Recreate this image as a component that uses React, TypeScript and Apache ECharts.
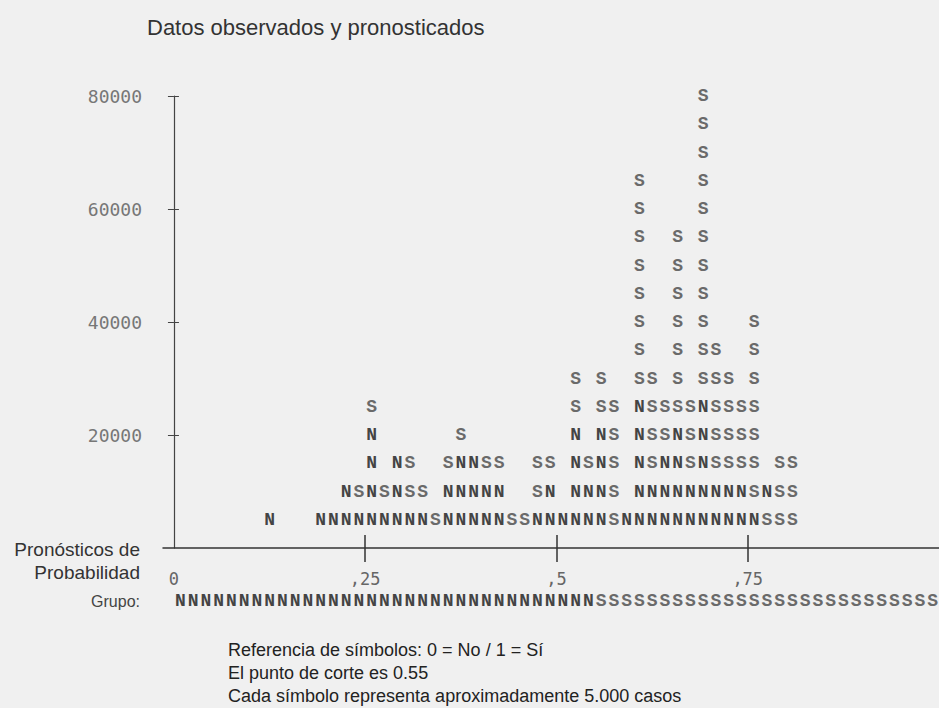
import React, { useEffect, useRef } from "react";
import * as echarts from "echarts";

// ---- data ----
const TITLE = "Datos observados y pronosticados";
// Each string is one row of symbols (bottom row first); each character is one of
// 60 probability columns (width 1/60). N = No, S = Sí.
const ROWS: string[] = [
  "       N   NNNNNNNNNSNNNNNSSNNNNNNSNNNNNNNNNNNSSS",
  "             NSNSNSS NNNNN  SN NNNS NNNNNNNNNSNSS",
  "               N NS  SNNSS  SS NSNS NSNNSNSSSS SS",
  "               N      S        N NS NSSNSNSSSS",
  "               S               S SS NSSSSNSSSS",
  "                               S S  SS S SSS S",
  "                                    S  S SS  S",
  "                                    S  S S   S",
  "                                    S  S S",
  "                                    S  S S",
  "                                    S  S S",
  "                                    S    S",
  "                                    S    S",
  "                                         S",
  "                                         S",
  "                                         S",
];
const COLUMNS = 60;
const CASES_PER_SYMBOL = 5000;
const CUT_POINT = 0.55;
const X_TICKS = [0, 0.25, 0.5, 0.75];
const X_TICK_LABELS = ["0", ",25", ",5", ",75"];
const X_CROSS_TICKS = [0.25, 0.5, 0.75];
const Y_TICKS = [20000, 40000, 60000, 80000];
const AXIS_LABEL_LINES = ["Pronósticos de", "Probabilidad"];
const GROUP_LABEL = "Grupo:";
const FOOTER_LINES = [
  "Referencia de símbolos: 0 = No / 1 = Sí",
  "El punto de corte es 0.55",
  "Cada símbolo representa aproximadamente 5.000 casos",
];

const nPoints: number[][] = [];
const sPoints: number[][] = [];
ROWS.forEach((row, r) => {
  for (let c = 0; c < row.length; c++) {
    const ch = row[c];
    if (ch === " ") continue;
    const pt = [(c + 0.5) / COLUMNS, (r + 1) * CASES_PER_SYMBOL];
    (ch === "N" ? nPoints : sPoints).push(pt);
  }
});
const groupPoints: number[][] = [];
const groupLetters: string[] = [];
for (let c = 0; c < COLUMNS; c++) {
  const x = (c + 0.5) / COLUMNS;
  groupPoints.push([x, 0]);
  groupLetters.push(x < CUT_POINT ? "N" : "S");
}

const LETTER_FONT = 'bold 18px "Liberation Mono", monospace';

function letterRenderer(getChar: (i: number) => string, color: (ch: string) => string, dy: number) {
  return (params: any, api: any) => {
    const p = api.coord([api.value(0), api.value(1)]);
    const ch = getChar(params.dataIndex);
    return {
      type: "text",
      x: p[0],
      y: p[1] + dy,
      style: {
        text: ch,
        fill: color(ch),
        font: LETTER_FONT,
        align: "center",
        verticalAlign: "middle",
      },
    };
  };
}

const colorOf = (ch: string) => (ch === "N" ? "#444" : "#6a6a6a");

export default function App() {
  const ref = useRef<HTMLDivElement>(null);
  useEffect(() => {
    if (!ref.current) return;
    const chart = echarts.init(ref.current, undefined, { renderer: "svg" });
    const yCommon = {
      type: "value",
      min: 0,
      max: 80000,
      interval: 20000,
      position: "left",
      splitLine: { show: false },
    };
    const xCommon = {
      type: "value",
      min: -0.0143,
      max: 1,
      position: "bottom",
      splitLine: { show: false },
    };
    chart.setOption({
      animation: false,
      backgroundColor: "#f0f0f0",
      grid: { left: 163, top: 96, width: 779, height: 452 },
      xAxis: [
        {
          ...xCommon,
          axisLine: { show: true, lineStyle: { color: "#333", width: 1.5 } },
          axisTick: {
            show: true,
            inside: false,
            length: 14,
            customValues: X_CROSS_TICKS,
            lineStyle: { color: "#333", width: 1.5 },
          },
          axisLabel: {
            customValues: X_TICKS,
            formatter: (v: number) => X_TICK_LABELS[X_TICKS.indexOf(v)] ?? "",
            margin: 22,
            color: "#666",
            fontFamily: "DejaVu Sans Mono",
            fontSize: 17,
          },
        },
        {
          ...xCommon,
          axisLine: { show: false },
          axisTick: {
            show: true,
            inside: true,
            length: 13,
            customValues: X_CROSS_TICKS,
            lineStyle: { color: "#333", width: 1.5 },
          },
          axisLabel: { show: false },
        },
      ],
      yAxis: [
        {
          ...yCommon,
          axisLine: { show: true, lineStyle: { color: "#444", width: 1.2 } },
          axisTick: {
            show: true,
            inside: false,
            length: 6,
            customValues: Y_TICKS,
            lineStyle: { color: "#444" },
          },
          axisLabel: {
            customValues: Y_TICKS,
            formatter: (v: number) => String(v),
            margin: 21,
            color: "#777",
            fontFamily: "DejaVu Sans Mono",
            fontSize: 18,
          },
        },
        {
          ...yCommon,
          axisLine: { show: false },
          axisTick: {
            show: true,
            inside: true,
            length: 5,
            customValues: Y_TICKS,
            lineStyle: { color: "#444" },
          },
          axisLabel: { show: false },
        },
      ],
      series: [
        {
          type: "custom",
          name: "No",
          data: nPoints,
          renderItem: letterRenderer(() => "N", colorOf, 0),
        },
        {
          type: "custom",
          name: "Sí",
          data: sPoints,
          renderItem: letterRenderer(() => "S", colorOf, 0),
        },
        {
          type: "custom",
          name: "Grupo",
          data: groupPoints,
          clip: false,
          renderItem: letterRenderer((i) => groupLetters[i], colorOf, 53),
        },
      ],
      graphic: [
        {
          type: "text",
          x: 147,
          y: 27,
          style: {
            text: TITLE,
            font: '22px "Liberation Sans", Arial, sans-serif',
            fill: "#333",
            align: "left",
            verticalAlign: "middle",
          },
        },
        ...AXIS_LABEL_LINES.map((t, i) => ({
          type: "text",
          x: 140,
          y: 549 + i * 23,
          style: {
            text: t,
            font: '19px "Liberation Sans", Arial, sans-serif',
            fill: "#333",
            align: "right",
            verticalAlign: "middle",
          },
        })),
        {
          type: "text",
          x: 140,
          y: 601,
          style: {
            text: GROUP_LABEL,
            font: '16px "Liberation Sans", Arial, sans-serif',
            fill: "#444",
            align: "right",
            verticalAlign: "middle",
          },
        },
        ...FOOTER_LINES.map((t, i) => ({
          type: "text",
          x: 228,
          y: 650 + i * 23,
          style: {
            text: t,
            font: '18px "Liberation Sans", Arial, sans-serif',
            fill: "#222",
            align: "left",
            verticalAlign: "middle",
          },
        })),
      ],
    });
    return () => chart.dispose();
  }, []);
  return (
    <div
      ref={ref}
      style={{ position: "fixed", left: 0, top: 0, width: 939, height: 708 }}
    />
  );
}
